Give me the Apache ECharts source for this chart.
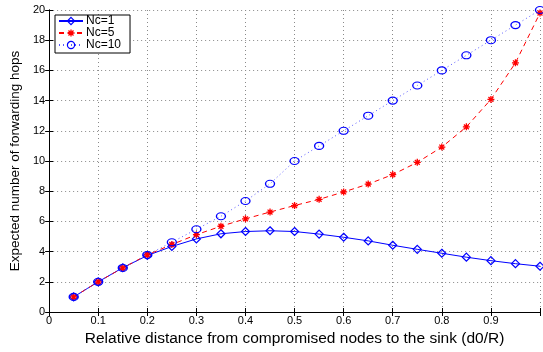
<!DOCTYPE html>
<html>
<head>
<meta charset="utf-8">
<script src="https://cdn.jsdelivr.net/npm/echarts@6/dist/echarts.min.js"></script>
<style>
  html, body { margin: 0; padding: 0; background: #fff; }
  #chart { width: 543px; height: 352px; }
</style>
</head>
<body>
<div id="chart"></div>
<script>
// Relative distance d0/R
const distances = [0.05, 0.1, 0.15, 0.2, 0.25, 0.3, 0.35, 0.4, 0.45, 0.5,
                   0.55, 0.6, 0.65, 0.7, 0.75, 0.8, 0.85, 0.9, 0.95, 1.0];
// Expected number of forwarding hops per compromised-node count
const hopsNc1  = [1.0, 2.0, 2.93, 3.74, 4.34, 4.84, 5.18, 5.33, 5.38, 5.33,
                  5.16, 4.95, 4.71, 4.42, 4.15, 3.89, 3.63, 3.40, 3.20, 3.03];
const hopsNc5  = [1.0, 2.0, 2.92, 3.78, 4.47, 5.12, 5.68, 6.17, 6.62, 7.05,
                  7.46, 7.95, 8.47, 9.10, 9.91, 10.92, 12.26, 14.08, 16.50, 19.8];
const hopsNc10 = [1.0, 2.0, 2.92, 3.78, 4.62, 5.48, 6.34, 7.35, 8.49, 10.0,
                  11.0, 12.0, 13.0, 14.0, 15.0, 16.0, 17.0, 18.0, 19.0, 20.0];
const seriesNames = ['Nc=1', 'Nc=5', 'Nc=10'];
const xTickLabels = ['0', '0.1', '0.2', '0.3', '0.4', '0.5', '0.6', '0.7', '0.8', '0.9', ''];

const pairs = ys => distances.map((x, i) => [x, ys[i]]);
const asterisk = 'path://M0 5 L10 5 M5 0 L5 10 M1.5 1.5 L8.5 8.5 M8.5 1.5 L1.5 8.5';
const font = 'Liberation Sans, Arial, Helvetica, sans-serif';
const BLUE = '#0000ff', RED = '#ff0000';
const NOFILL = 'rgba(255,255,255,0)';

// hollow marker outlines, shared by the plot and the legend
const markDiamond = { color: NOFILL, borderColor: BLUE, borderWidth: 1.2 };
const markStar = { color: NOFILL, borderColor: RED, borderWidth: 1.3 };
const markCircle = { color: NOFILL, borderColor: BLUE, borderWidth: 1.2 };

const gridLine = { show: true, lineStyle: { color: '#8a8a8a', type: [1, 3], width: 1 } };
const frame = { show: true, lineStyle: { color: '#000', width: 1 } };
const tickIn = { inside: true, length: 4, lineStyle: { color: '#000' } };

const chart = echarts.init(document.getElementById('chart'), null, { renderer: 'canvas' });
chart.setOption({
  animation: false,
  backgroundColor: '#fff',
  grid: { left: 48, top: 10, width: 497, height: 310, containLabel: false },
  legend: {
    left: 55, top: 15, orient: 'vertical',
    padding: [0, 9, 2, 3],
    itemGap: 0, itemWidth: 24, itemHeight: 9,
    backgroundColor: '#fff', borderColor: '#000', borderWidth: 1,
    itemStyle: { color: NOFILL, borderWidth: 1.2 },
    textStyle: { fontFamily: font, fontSize: 12, lineHeight: 10, height: 10,
                 color: '#000', padding: [0, 0, 0, -2] },
    data: [
      { name: seriesNames[0], itemStyle: markDiamond },
      { name: seriesNames[1], itemStyle: markStar },
      { name: seriesNames[2], itemStyle: markCircle }
    ]
  },
  xAxis: [{
    type: 'value', min: 0, max: 1, interval: 0.1,
    name: 'Relative distance from compromised nodes to the sink (d0/R)',
    nameLocation: 'middle', nameGap: 19,
    nameTextStyle: { fontFamily: font, fontSize: 15.5, color: '#000' },
    axisLine: frame, axisTick: tickIn,
    axisLabel: {
      fontFamily: font, fontSize: 11, color: '#000', margin: 3,
      formatter: v => xTickLabels[Math.round(v * 10)]
    },
    splitLine: gridLine
  }, {
    type: 'value', min: 0, max: 1, interval: 0.1, position: 'top',
    axisLine: frame, axisTick: tickIn,
    axisLabel: { show: false }, splitLine: { show: false }
  }],
  yAxis: [{
    type: 'value', min: 0, max: 20, interval: 2,
    name: 'Expected number of forwarding hops',
    nameLocation: 'middle', nameGap: 25,
    nameTextStyle: { fontFamily: font, fontSize: 13.5, color: '#000' },
    axisLine: frame, axisTick: tickIn,
    axisLabel: { fontFamily: font, fontSize: 11, color: '#000', margin: 4 },
    splitLine: gridLine
  }, {
    type: 'value', min: 0, max: 20, interval: 2, position: 'right',
    axisLine: frame, axisTick: tickIn,
    axisLabel: { show: false }, splitLine: { show: false }
  }],
  series: [{
    name: seriesNames[0], type: 'line', data: pairs(hopsNc1),
    symbol: 'diamond', symbolSize: [8, 8],
    itemStyle: markDiamond,
    lineStyle: { color: BLUE, width: 1 }
  }, {
    name: seriesNames[1], type: 'line', data: pairs(hopsNc5),
    symbol: asterisk, symbolSize: 7,
    itemStyle: markStar,
    lineStyle: { color: RED, width: 1, type: [5, 4] }
  }, {
    name: seriesNames[2], type: 'line', data: pairs(hopsNc10),
    symbol: 'circle', symbolSize: [9, 7],
    itemStyle: markCircle,
    lineStyle: { color: '#5a5aff', width: 1, type: [1, 3] }
  }]
});
</script>
</body>
</html>
